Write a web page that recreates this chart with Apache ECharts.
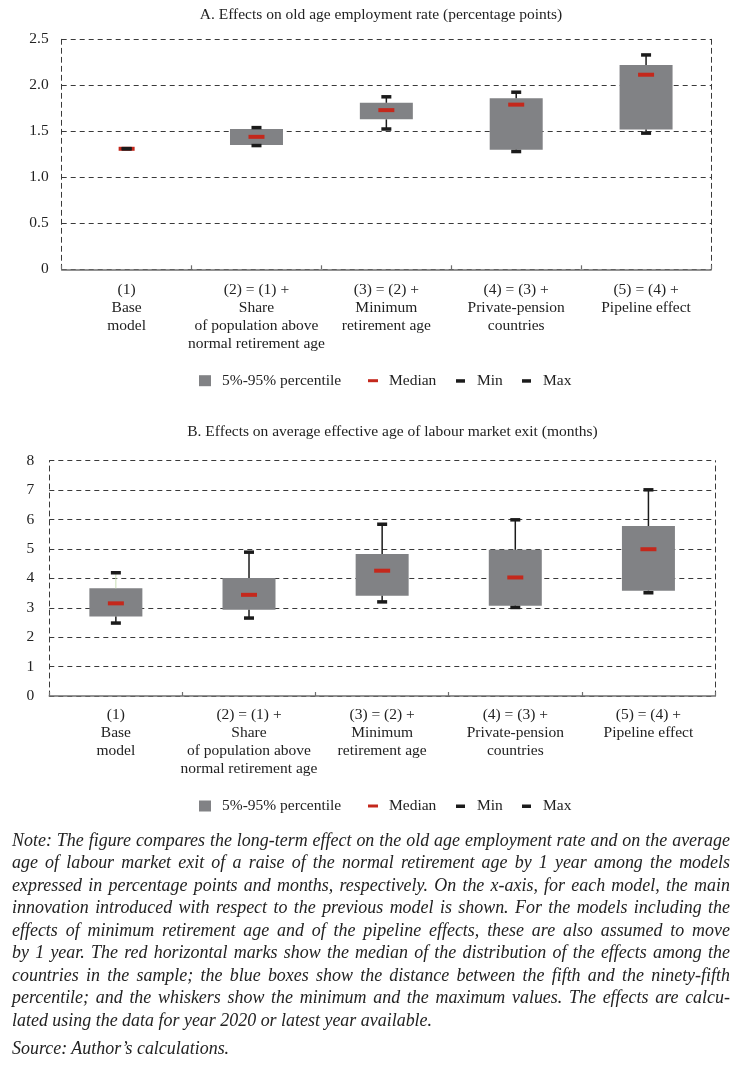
<!DOCTYPE html>
<html>
<head>
<meta charset="utf-8">
<script src="https://cdn.jsdelivr.net/npm/echarts@6/dist/echarts.min.js"></script>
<style>
  html, body { margin: 0; padding: 0; background: #fff; }
  #wrap { position: relative; width: 748px; height: 1065px; overflow: hidden; }
  #chart { position: absolute; left: 0; top: 0; width: 748px; height: 830px; }
  #note { position: absolute; left: 12px; top: 828.75px; font-family: "Liberation Serif", serif; font-style: italic; font-size: 19.5px; line-height: 22.5px; color: #222; }
  #note .ln { width: 780.4px; transform: scaleX(0.92); transform-origin: 0 0; height: 22.5px; text-align: justify; text-align-last: justify; white-space: nowrap; }
  #note .last { text-align: left; text-align-last: left; }
  #note .src { margin-top: 6.2px; }
</style>
</head>
<body>
<div id="wrap">
  <div id="chart"></div>
  <div id="note">
    <div class="ln">Note: The figure compares the long-term effect on the old age employment rate and on the average</div>
    <div class="ln">age of labour market exit of a raise of the normal retirement age by 1 year among the models</div>
    <div class="ln">expressed in percentage points and months, respectively. On the x-axis, for each model, the main</div>
    <div class="ln">innovation introduced with respect to the previous model is shown. For the models including the</div>
    <div class="ln">effects of minimum retirement age and of the pipeline effects, these are also assumed to move</div>
    <div class="ln">by 1 year. The red horizontal marks show the median of the distribution of the effects among the</div>
    <div class="ln">countries in the sample; the blue boxes show the distance between the fifth and the ninety-fifth</div>
    <div class="ln">percentile; and the whiskers show the minimum and the maximum values. The effects are calcu-</div>
    <div class="ln last">lated using the data for year 2020 or latest year available.</div>
    <div class="ln last src">Source: Author’s calculations.</div>
  </div>
</div>
<script>
// ---------------- DATA ----------------
const categories = [
  '(1)\nBase\nmodel',
  '(2) = (1) +\nShare\nof population above\nnormal retirement age',
  '(3) = (2) +\nMinimum\nretirement age',
  '(4) = (3) +\nPrivate-pension\ncountries',
  '(5) = (4) +\nPipeline effect'
];
const titleA = 'A. Effects on old age employment rate (percentage points)';
const titleB = 'B. Effects on average effective age of labour market exit (months)';
const legendLabels = ['5%-95% percentile', 'Median', 'Min', 'Max'];

// Panel A: old age employment rate (percentage points)
const aP5     = [1.31, 1.35, 1.63, 1.30, 1.52];
const aP95    = [1.31, 1.525, 1.81, 1.86, 2.22];
const aMedian = [1.31, 1.44, 1.73, 1.79, 2.115];
const aMin    = [1.31, 1.345, 1.525, 1.28, 1.48];
const aMax    = [1.312, 1.54, 1.875, 1.925, 2.33];
const aTicks  = { min: 0, max: 2.5, interval: 0.5 };

// Panel B: average effective age of labour market exit (months)
const bP5     = [2.70, 2.93, 3.41, 3.07, 3.58];
const bP95    = [3.66, 4.01, 4.83, 4.97, 5.78];
const bMedian = [3.15, 3.44, 4.26, 4.03, 4.99];
const bMin    = [2.48, 2.65, 3.20, 3.01, 3.51];
const bMax    = [4.19, 4.89, 5.84, 5.99, 7.01];
const bTicks  = { min: 0, max: 8, interval: 1 };

// ---------------- STYLE ----------------
const FONT = '"Liberation Serif", "Times New Roman", serif';
const FS = 15.5;
const TXT = '#222';
const BOX = '#818285';
const RED = '#c4281c';
const CAP = '#1b1b1b';
const GRIDC = '#3a3a3a';

function rows(p5, p95, med, mn, mx) {
  return categories.map((c, i) => [i, p5[i], p95[i], med[i], mn[i], mx[i]]);
}

function makeRender(panel) {
  return function (params, api) {
    const i = api.value(0);
    const pTop = api.coord([i, api.value(2)]);
    const pBot = api.coord([i, api.value(1)]);
    const yMed = api.coord([i, api.value(3)])[1];
    const yMin = api.coord([i, api.value(4)])[1];
    const yMax = api.coord([i, api.value(5)])[1];
    const cx = pTop[0];
    const bw = 53;
    const ch = [];
    if (pBot[1] - pTop[1] > 0.5) {
      ch.push({ type: 'rect', shape: { x: cx - bw / 2, y: pTop[1], width: bw, height: pBot[1] - pTop[1] }, style: { fill: BOX } });
    }
    const wcol = (panel === 'B' && i === 0) ? '#c9dfb4' : CAP;
    const wwid = (panel === 'B' && i === 0) ? 1 : 1.5;
    if (yMax < pTop[1] - 1) ch.push({ type: 'line', shape: { x1: cx, y1: pTop[1], x2: cx, y2: yMax }, style: { stroke: wcol, lineWidth: wwid } });
    if (yMin > pBot[1] + 1) ch.push({ type: 'line', shape: { x1: cx, y1: pBot[1], x2: cx, y2: yMin }, style: { stroke: CAP, lineWidth: 1.5 } });
    ch.push({ type: 'rect', shape: { x: cx - 8, y: yMed - 2, width: 16, height: 4 }, style: { fill: RED } });
    ch.push({ type: 'rect', shape: { x: cx - 5, y: yMax - 1.75, width: 10, height: 3.5 }, style: { fill: CAP } });
    ch.push({ type: 'rect', shape: { x: cx - 5, y: yMin - 1.75, width: 10, height: 3.5 }, style: { fill: CAP } });
    return { type: 'group', children: ch };
  };
}

function yAxisLeft(gi, t, fmt, margin) {
  return {
    type: 'value', gridIndex: gi, min: t.min, max: t.max, interval: t.interval,
    axisLine: { show: true, lineStyle: { color: GRIDC, type: [5, 4], width: 1 } },
    axisTick: { show: false },
    axisLabel: { color: TXT, fontFamily: FONT, fontSize: FS, margin: margin, formatter: fmt },
    splitLine: { show: true, lineStyle: { color: GRIDC, type: [5, 4], width: 1 } }
  };
}
function yAxisRight(gi, t) {
  return {
    type: 'value', gridIndex: gi, position: 'right', min: t.min, max: t.max, interval: t.interval,
    axisLine: { show: true, lineStyle: { color: GRIDC, type: [5, 4], width: 1 } },
    axisTick: { show: false }, axisLabel: { show: false }, splitLine: { show: false }
  };
}
function xAxis(gi, margin) {
  return {
    type: 'category', gridIndex: gi, data: categories, boundaryGap: true,
    axisLine: { show: true, lineStyle: { color: '#6f6f6f', width: 1.6 } },
    axisTick: { show: true, inside: true, length: 4, lineStyle: { color: '#6f6f6f', width: 1.2 } },
    axisLabel: { color: TXT, fontFamily: FONT, fontSize: FS, lineHeight: 18, margin: margin, interval: 0 },
    splitLine: { show: false }
  };
}

function legendGraphic(yc) {
  const t = (x, s) => ({ type: 'text', x: x, y: yc, style: { text: s, fill: TXT, font: FS + 'px ' + FONT, verticalAlign: 'middle', align: 'left' } });
  return [
    { type: 'rect', shape: { x: 199, y: yc - 5.5, width: 12, height: 11 }, style: { fill: BOX } },
    t(222, legendLabels[0]),
    { type: 'rect', shape: { x: 368, y: yc - 1.5, width: 10, height: 3 }, style: { fill: RED } },
    t(389, legendLabels[1]),
    { type: 'rect', shape: { x: 456, y: yc - 1.5, width: 9, height: 3.5 }, style: { fill: CAP } },
    t(477, legendLabels[2]),
    { type: 'rect', shape: { x: 522, y: yc - 1.5, width: 9, height: 3.5 }, style: { fill: CAP } },
    t(543, legendLabels[3])
  ];
}

const chart = echarts.init(document.getElementById('chart'), null, { renderer: 'canvas' });
chart.setOption({
  animation: false,
  backgroundColor: '#fff',
  grid: [
    { left: 61.7, right: 37, top: 39.3, height: 230 },
    { left: 49.3, right: 33, top: 460.7, height: 235.3 }
  ],
  xAxis: [xAxis(0, 12), xAxis(1, 9.5)],
  yAxis: [
    yAxisLeft(0, aTicks, v => (v === 0 ? '0' : v.toFixed(1)), 13),
    yAxisRight(0, aTicks),
    yAxisLeft(1, bTicks, v => String(v), 15),
    yAxisRight(1, bTicks)
  ],
  graphic: [
    { type: 'text', x: 381, y: 15, style: { text: titleA, fill: TXT, font: FS + 'px ' + FONT, align: 'center', verticalAlign: 'middle' } },
    { type: 'text', x: 392.5, y: 432, style: { text: titleB, fill: TXT, font: FS + 'px ' + FONT, align: 'center', verticalAlign: 'middle' } },
    ...legendGraphic(380.7),
    ...legendGraphic(806)
  ],
  series: [
    { type: 'custom', xAxisIndex: 0, yAxisIndex: 0, renderItem: makeRender('A'), data: rows(aP5, aP95, aMedian, aMin, aMax), z: 5 },
    { type: 'custom', xAxisIndex: 1, yAxisIndex: 2, renderItem: makeRender('B'), data: rows(bP5, bP95, bMedian, bMin, bMax), z: 5 }
  ]
});
</script>
</body>
</html>
